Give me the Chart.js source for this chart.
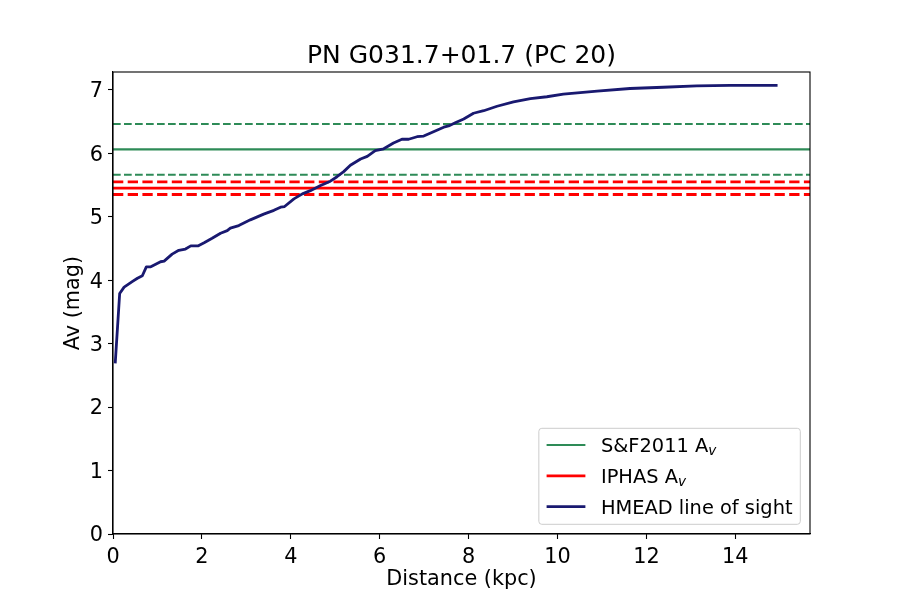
<!DOCTYPE html>
<html>
<head>
<meta charset="utf-8">
<title>PN G031.7+01.7 (PC 20)</title>
<script src="https://cdn.jsdelivr.net/npm/chart.js@4.4.1/dist/chart.umd.min.js"></script>
<style>
  html, body { margin: 0; padding: 0; background: #fff; }
  #wrap { width: 900px; height: 600px; }
</style>
</head>
<body>
<div id="wrap"><canvas id="avChart" width="900" height="600"></canvas></div>
<script>
// line of sight extinction
const DIST = [0.05, 0.15, 0.25, 0.44, 0.55, 0.66, 0.75, 0.85, 0.96, 1.07, 1.15, 1.33, 1.48, 1.63,
  1.75, 1.91, 2.05, 2.23, 2.42, 2.57, 2.64, 2.83, 3.09, 3.39, 3.62, 3.77, 3.86, 4.07, 4.26, 4.44,
  4.67, 4.89, 5.04, 5.19, 5.34, 5.57, 5.72, 5.90, 6.09, 6.31, 6.50, 6.65, 6.84, 6.99, 7.21, 7.44,
  7.55, 7.70, 7.89, 8.11, 8.34, 8.64, 9.01, 9.39, 9.76, 10.13, 10.89, 11.63, 12.38, 13.13, 13.88, 14.95];
const AV = [2.69, 3.79, 3.89, 3.98, 4.03, 4.07, 4.21, 4.21, 4.25, 4.29, 4.30, 4.41, 4.47, 4.49,
  4.54, 4.54, 4.59, 4.66, 4.74, 4.78, 4.82, 4.86, 4.95, 5.04, 5.10, 5.15, 5.16, 5.28, 5.36, 5.41,
  5.49, 5.56, 5.63, 5.71, 5.81, 5.91, 5.95, 6.04, 6.07, 6.16, 6.22, 6.22, 6.26, 6.27, 6.34, 6.41,
  6.43, 6.48, 6.54, 6.63, 6.67, 6.74, 6.81, 6.86, 6.89, 6.93, 6.98, 7.02, 7.04, 7.06, 7.07, 7.07];

// reference values: [lower, value, upper]
const SF2011_AV = [5.66, 6.06, 6.46];
const IPHAS_AV = [5.35, 5.45, 5.55];

const X_RANGE = [0, 15.68];
const Y_RANGE = [0, 7.28];
const X_TICKS = [0, 2, 4, 6, 8, 10, 12, 14];
const Y_TICKS = [0, 1, 2, 3, 4, 5, 6, 7];

const GREEN = '#2e8b57';
const RED = '#ff0000';
const BLUE = '#191970';
const FONT = '"DejaVu Sans", "Liberation Sans", sans-serif';

Chart.defaults.font.family = FONT;
Chart.defaults.color = '#000';

// horizontal line over the whole x range
function hline(value, color, width, dash, label) {
  return {
    label: label,
    sub: label ? 'v' : '',
    data: [{ x: X_RANGE[0], y: value }, { x: X_RANGE[1], y: value }],
    showLine: true,
    borderColor: color,
    borderWidth: width,
    borderDash: dash,
    pointRadius: 0,
    order: 1
  };
}

const datasets = [
  hline(SF2011_AV[1], GREEN, 2.1, [], 'S&F2011 A'),
  hline(SF2011_AV[0], GREEN, 2.1, [7.7, 3.3]),
  hline(SF2011_AV[2], GREEN, 2.1, [7.7, 3.3]),
  hline(IPHAS_AV[1], RED, 2.8, [], 'IPHAS A'),
  hline(IPHAS_AV[0], RED, 2.8, [10.3, 4.4]),
  hline(IPHAS_AV[2], RED, 2.8, [10.3, 4.4]),
  {
    label: 'HMEAD line of sight',
    sub: '',
    data: DIST.map((d, i) => ({ x: d, y: AV[i] })),
    showLine: true,
    borderColor: BLUE,
    borderWidth: 2.8,
    borderJoinStyle: 'round',
    pointRadius: 0,
    order: 0
  }
];

// 枠線（上と右も）
const framePlugin = {
  id: 'frame',
  afterDraw(chart) {
    const { ctx, chartArea: a } = chart;
    ctx.save();
    ctx.strokeStyle = '#000';
    ctx.lineWidth = 1.1;
    ctx.strokeRect(a.left, a.top, a.right - a.left, a.bottom - a.top);
    ctx.restore();
  }
};

// 凡例（右下、枠の中）
const legendPlugin = {
  id: 'boxLegend',
  afterDraw(chart) {
    const { ctx, chartArea: a } = chart;
    const items = chart.data.datasets.filter(ds => ds.label);
    const fs = 19.4, subFs = 13.6;
    const font = `${fs}px ${FONT}`;
    const subFont = `italic ${subFs}px ${FONT}`;

    ctx.save();
    const widths = items.map(ds => {
      ctx.font = font;
      let w = ctx.measureText(ds.label).width;
      if (ds.sub) { ctx.font = subFont; w += ctx.measureText(ds.sub).width; }
      return w;
    });
    const pad = 0.4 * fs, handle = 2 * fs, gap = 0.8 * fs, rowH = 30.8;
    const w = pad * 2 + handle + gap + Math.max(...widths);
    const h = 96;
    const right = a.right - 0.5 * fs, bottom = a.bottom - 0.5 * fs;
    const left = right - w, top = bottom - h;

    ctx.beginPath();
    ctx.roundRect(left, top, w, h, 3);
    ctx.fillStyle = 'rgba(255,255,255,0.8)';
    ctx.fill();
    ctx.strokeStyle = '#cccccc';
    ctx.lineWidth = 1;
    ctx.stroke();

    items.forEach((ds, i) => {
      const y = top + 16.7 + i * rowH;
      ctx.beginPath();
      ctx.moveTo(left + pad, y);
      ctx.lineTo(left + pad + handle, y);
      ctx.strokeStyle = ds.borderColor;
      ctx.lineWidth = ds.borderWidth;
      ctx.stroke();

      const tx = left + pad + handle + gap;
      ctx.fillStyle = '#000';
      ctx.textBaseline = 'alphabetic';
      ctx.textAlign = 'left';
      ctx.font = font;
      ctx.fillText(ds.label, tx, y + 7.3);
      if (ds.sub) {
        const lw = ctx.measureText(ds.label).width;
        ctx.font = subFont;
        ctx.fillText(ds.sub, tx + lw, y + 9.8);
      }
    });
    ctx.restore();
  }
};

const tickFont = { size: 20.8 };

new Chart(document.getElementById('avChart'), {
  type: 'scatter',
  data: { datasets: datasets },
  options: {
    responsive: false,
    animation: false,
    devicePixelRatio: 1,
    layout: { padding: { top: 0, right: 90, bottom: 0, left: 0 } },
    plugins: {
      legend: { display: false },
      tooltip: { enabled: false },
      title: {
        display: true,
        text: 'PN G031.7+01.7 (PC 20)',
        fullSize: false,
        color: '#000',
        font: { size: 25, weight: 'normal' },
        padding: { top: 41.3, bottom: 0.7 }
      }
    },
    scales: {
      x: {
        type: 'linear',
        min: X_RANGE[0],
        max: X_RANGE[1],
        afterBuildTicks: s => { s.ticks = X_TICKS.map(v => ({ value: v })); },
        afterFit: s => { s.height = 66; },
        grid: { drawOnChartArea: false, drawTicks: true, tickLength: 5, tickColor: '#000', tickWidth: 1.1 },
        border: { display: true, color: '#000', width: 1.1 },
        ticks: { font: tickFont, color: '#000', padding: 6, maxRotation: 0 },
        title: { display: true, text: 'Distance (kpc)', font: tickFont, color: '#000', padding: { top: 0, bottom: 7.8 } }
      },
      y: {
        type: 'linear',
        min: Y_RANGE[0],
        max: Y_RANGE[1],
        afterBuildTicks: s => { s.ticks = Y_TICKS.map(v => ({ value: v })); },
        afterFit: s => { s.width = 113; },
        grid: { drawOnChartArea: false, drawTicks: true, tickLength: 5, tickColor: '#000', tickWidth: 1.1 },
        border: { display: true, color: '#000', width: 1.1 },
        ticks: { font: tickFont, color: '#000', padding: 5, labelOffset: 2 },
        title: { display: true, text: 'Av (mag)', font: tickFont, color: '#000', padding: { top: 61.5, bottom: 0 } }
      }
    }
  },
  plugins: [framePlugin, legendPlugin]
});
</script>
</body>
</html>
